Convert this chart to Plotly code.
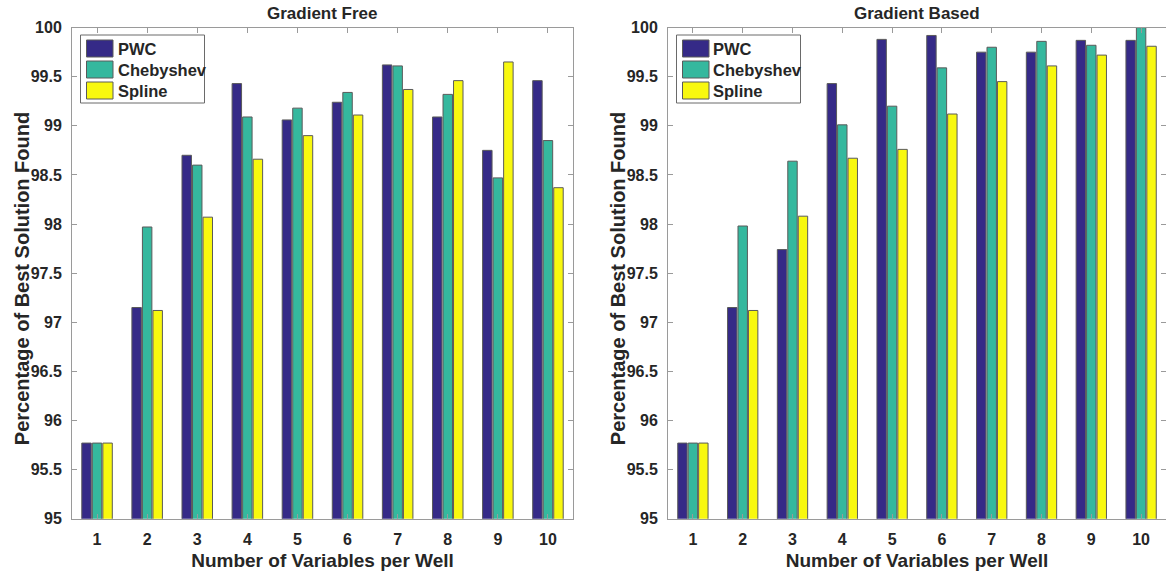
import plotly.graph_objects as go

# ---- data -----------------------------------------------------------------
variables = list(range(1, 11))
series_names = ["PWC", "Chebyshev", "Spline"]
series_colors = ["#352A87", "#35B89E", "#F8F80F"]

free_pwc = [95.77, 97.15, 98.70, 99.43, 99.06, 99.24, 99.62, 99.09, 98.75, 99.46]
free_cheb = [95.77, 97.97, 98.60, 99.09, 99.18, 99.34, 99.61, 99.32, 98.47, 98.85]
free_spline = [95.77, 97.12, 98.07, 98.66, 98.90, 99.11, 99.37, 99.46, 99.65, 98.37]

based_pwc = [95.77, 97.15, 97.74, 99.43, 99.88, 99.92, 99.75, 99.75, 99.87, 99.87]
based_cheb = [95.77, 97.98, 98.64, 99.01, 99.20, 99.59, 99.80, 99.86, 99.82, 100.00]
based_spline = [95.77, 97.12, 98.08, 98.67, 98.76, 99.12, 99.45, 99.61, 99.72, 99.81]

panel_titles = ["Gradient Free", "Gradient Based"]
y_ticks = [95, 95.5, 96, 96.5, 97, 97.5, 98, 98.5, 99, 99.5, 100]
y_tick_labels = ["95", "95.5", "96", "96.5", "97", "97.5", "98", "98.5", "99", "99.5", "100"]
x_title = "Number of Variables per Well"
y_title = "Percentage of Best Solution Found"

# ---- page geometry (pixels) ----------------------------------------------
W, H = 1166, 575
FONT = "Liberation Sans, Arial, sans-serif"
TEXT = "#262626"
FRAME = "#9a9a9a"


def px(x):
    return x / W


def py(y):
    return 1 - y / H


panels = [
    dict(xaxis="x", yaxis="y", left=72, right=573,
         series=[free_pwc, free_cheb, free_spline]),
    dict(xaxis="x2", yaxis="y2", left=668, right=1166,
         series=[based_pwc, based_cheb, based_spline]),
]
plot_top, plot_bottom = 27.6, 518.7

fig = go.Figure()

for panel in panels:
    for name, color, values in zip(series_names, series_colors, panel["series"]):
        fig.add_trace(go.Bar(
            x=variables, y=values, name=name,
            xaxis=panel["xaxis"], yaxis=panel["yaxis"],
            marker=dict(color=color, line=dict(color="#5a5a5a", width=1)),
            showlegend=False,
        ))

axis_common = dict(
    showgrid=False, zeroline=False, automargin=False,
    showline=True, linecolor=FRAME, linewidth=1, mirror="ticks",
    ticks="inside", ticklen=5, tickcolor=FRAME, tickwidth=1,
    tickfont=dict(family=FONT, size=16, color=TEXT, weight="bold"),
)

layout_axes = {}
for i, panel in enumerate(panels):
    sx = "" if i == 0 else str(i + 1)
    layout_axes["xaxis" + sx] = dict(
        axis_common,
        domain=[px(panel["left"]), px(panel["right"])],
        anchor=panel["yaxis"],
        range=[0.5, 10.5],
        tickmode="array", tickvals=variables,
        ticklabelstandoff=6,
        title=dict(text=x_title, standoff=6,
                   font=dict(family=FONT, size=19, color=TEXT, weight="bold")),
    )
    layout_axes["yaxis" + sx] = dict(
        axis_common,
        domain=[py(plot_bottom), py(plot_top)],
        anchor=panel["xaxis"],
        range=[95, 100],
        tickmode="array", tickvals=y_ticks, ticktext=y_tick_labels,
        ticklabelstandoff=6,
    )

shapes = []
annotations = []
for panel, title in zip(panels, panel_titles):
    left = panel["left"]
    # panel title
    annotations.append(dict(
        text=title, xref="paper", yref="paper",
        x=px((panel["left"] + min(panel["right"], left + 501)) / 2), y=py(14),
        xanchor="center", yanchor="middle", showarrow=False,
        font=dict(family=FONT, size=17, color=TEXT, weight="bold"),
    ))
    # vertical axis title
    annotations.append(dict(
        text=y_title, xref="paper", yref="paper",
        x=px(left - 50), y=py((plot_top + plot_bottom) / 2 + 6),
        xanchor="center", yanchor="middle", showarrow=False, textangle=-90,
        font=dict(family=FONT, size=20, color=TEXT, weight="bold"),
    ))
    # legend frame
    bx0, bx1 = left + 8.5, left + 132.5
    by0, by1 = 35, 103
    shapes.append(dict(type="rect", xref="paper", yref="paper",
                       x0=px(bx0), x1=px(bx1), y0=py(by1), y1=py(by0),
                       line=dict(color="#6a6a6a", width=1), fillcolor="white",
                       layer="above"))
    for k, (name, color) in enumerate(zip(series_names, series_colors)):
        top = 40 + k * 21
        shapes.append(dict(type="rect", xref="paper", yref="paper",
                           x0=px(left + 14.5), x1=px(left + 41),
                           y0=py(top + 17), y1=py(top),
                           line=dict(color="#5a5a5a", width=1), fillcolor=color,
                           layer="above"))
        annotations.append(dict(
            text=name, xref="paper", yref="paper",
            x=px(left + 43.5), y=py(top + 8.5),
            xanchor="left", yanchor="middle", showarrow=False,
            font=dict(family=FONT, size=16.5, color=TEXT, weight="bold"),
        ))

fig.update_layout(
    width=W, height=H,
    margin=dict(l=0, r=0, t=0, b=0, autoexpand=False),
    paper_bgcolor="white", plot_bgcolor="white",
    barmode="group", bargap=0.37, bargroupgap=0.1,
    shapes=shapes, annotations=annotations,
    **layout_axes,
)

fig.write_html("out.html")
